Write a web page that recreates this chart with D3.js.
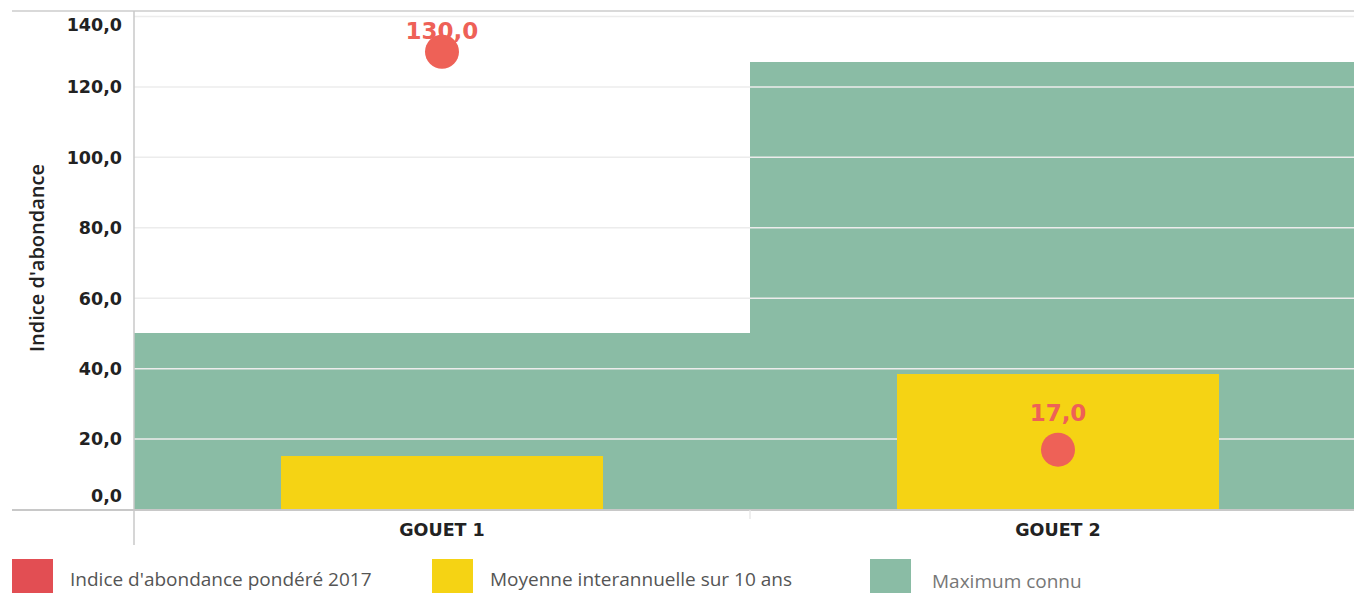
<!DOCTYPE html>
<html><head><meta charset="utf-8">
<script src="https://cdn.jsdelivr.net/npm/d3@7"></script>
<style>
html,body{margin:0;padding:0;background:#fff;overflow:hidden}
svg{display:block}
</style></head>
<body>
<svg id="chart" width="1354" height="593"></svg>
<script>
const categories = ["GOUET 1", "GOUET 2"];
const indice2017 = [130.0, 17.0];
const moyenne10 = [15.2, 38.5];
const maximum = [50.0, 127.1];
const yTicks = [0, 20, 40, 60, 80, 100, 120, 140];
const legendLabels = ["Indice d'abondance pondéré 2017", "Moyenne interannuelle sur 10 ans", "Maximum connu"];
const colors = {red: "#ee6157", legendRed: "#e24e53", yellow: "#f5d314", green: "#8abca5"};

const svg = d3.select("#chart");
const left = 134, right = 1366, top0 = 11, bottom = 509.5;
const x = d3.scaleBand().domain(categories).range([left, right]).padding(0);
const y = d3.scaleLinear().domain([0, 140]).range([bottom, 16.5]);
const fmt = v => d3.format(".1f")(v).replace(".", ",");
const boldFont = "'DejaVu Sans', sans-serif";

// green max bars
svg.append("g").selectAll("rect").data(categories).join("rect")
  .attr("x", d => x(d)).attr("width", x.bandwidth() + 0.5)
  .attr("y", (d,i) => y(maximum[i])).attr("height", (d,i) => bottom - y(maximum[i]))
  .attr("fill", colors.green).attr("shape-rendering", "crispEdges");

// gridlines
svg.append("g").selectAll("line").data(yTicks.filter(t => t > 0)).join("line")
  .attr("x1", left).attr("x2", 1354).attr("y1", d => y(d)).attr("y2", d => y(d))
  .attr("stroke", "#ececec").attr("stroke-width", 1.5);

// top border
svg.append("line").attr("x1", 12).attr("x2", 1354).attr("y1", top0).attr("y2", top0)
  .attr("stroke", "#cccccc").attr("stroke-width", 1.5);

// yellow bars
const inner = x.bandwidth() * 0.522;
svg.append("g").selectAll("rect").data(categories).join("rect")
  .attr("x", d => x(d) + (x.bandwidth() - inner) / 2).attr("width", inner)
  .attr("y", (d,i) => y(moyenne10[i])).attr("height", (d,i) => bottom - y(moyenne10[i]))
  .attr("fill", colors.yellow).attr("shape-rendering", "crispEdges");

// axes lines
svg.append("line").attr("x1", 12).attr("x2", 1354).attr("y1", bottom + 0.5).attr("y2", bottom + 0.5)
  .attr("stroke", "#c8c8c8").attr("stroke-width", 2);
svg.append("line").attr("x1", left).attr("x2", left).attr("y1", top0).attr("y2", 545)
  .attr("stroke", "#c8c8c8").attr("stroke-width", 1.5);
svg.append("line").attr("x1", x(categories[1])).attr("x2", x(categories[1])).attr("y1", bottom + 1).attr("y2", 519)
  .attr("stroke", "#eeeeee").attr("stroke-width", 2);

// y tick labels
svg.append("g").selectAll("text").data(yTicks).join("text")
  .attr("x", 122)
  .attr("y", d => d === 0 ? y(d) - 14 : d === 140 ? y(d) + 8 : y(d))
  .attr("dy", "0.36em")
  .attr("text-anchor", "end")
  .attr("font-family", boldFont).attr("font-weight", "bold")
  .attr("font-size", 17.5).attr("fill", "#222")
  .text(d => fmt(d));

// y axis title
svg.append("text").attr("transform", "translate(44,258) rotate(-90)")
  .attr("text-anchor", "middle")
  .attr("font-family", "'Open Sans', sans-serif").attr("font-weight", 600)
  .attr("font-size", 20).attr("fill", "#222")
  .text("Indice d'abondance");

// x labels
svg.append("g").selectAll("text").data(categories).join("text")
  .attr("x", d => x(d) + x.bandwidth() / 2).attr("y", 530).attr("dy", "0.36em")
  .attr("text-anchor", "middle")
  .attr("font-family", boldFont).attr("font-weight", "bold")
  .attr("font-size", 17.5).attr("fill", "#222")
  .text(d => d);

// red dots
svg.append("g").selectAll("circle").data(categories).join("circle")
  .attr("cx", d => x(d) + x.bandwidth() / 2).attr("cy", (d,i) => y(indice2017[i]))
  .attr("r", 17).attr("fill", colors.red);
svg.append("g").selectAll("text").data(categories).join("text")
  .attr("x", d => x(d) + x.bandwidth() / 2).attr("y", (d,i) => Math.max(31, y(indice2017[i]) - 37))
  .attr("dy", "0.36em").attr("text-anchor", "middle")
  .attr("font-family", boldFont).attr("font-weight", "bold")
  .attr("font-size", 23).attr("fill", colors.red)
  .text((d,i) => fmt(indice2017[i]));

// legend
const legX = [12, 432, 870];
const legC = [colors.legendRed, colors.yellow, colors.green];
const lg = svg.append("g").selectAll("g").data(legendLabels).join("g")
  .attr("transform", (d,i) => `translate(${legX[i]},559)`);
lg.append("rect").attr("width", 41).attr("height", 34).attr("fill", (d,i) => legC[i]);
lg.append("text").attr("x", (d,i) => i === 2 ? 62 : 58).attr("y", (d,i) => i === 2 ? 22 : 20)
  .attr("dy", "0.35em")
  .attr("font-family", "'Open Sans', sans-serif")
  .attr("font-size", 19).attr("fill", (d,i) => i === 2 ? "#777" : "#555")
  .text(d => d);
</script>
</body></html>
